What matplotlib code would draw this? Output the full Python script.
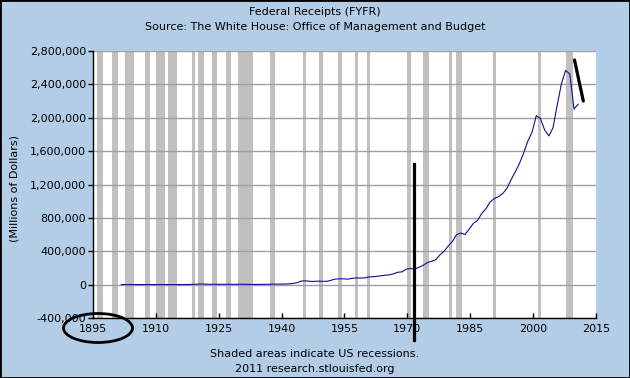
import matplotlib
matplotlib.use("Agg")
import matplotlib.pyplot as plt
from matplotlib.patches import Ellipse, Rectangle
from matplotlib.lines import Line2D
from matplotlib.ticker import FuncFormatter
import numpy as np

# Fiscal years and federal receipts (millions of dollars)
years = list(range(1901, 2011))
receipts = [
    588, 562, 562, 541, 544, 595, 666, 602, 604, 676,
    702, 693, 714, 725, 683, 761, 1101, 3645, 5130, 6649,
    5571, 4026, 3853, 3871, 3641, 3795, 4013, 3900, 3862, 4058,
    3116, 1924, 1997, 2955, 3609, 3923, 5387, 6751, 6295, 6548,
    8712, 14634, 24001, 43747, 45159, 39296, 38514, 41560, 39415, 39443,
    51616, 66167, 69608, 69701, 65451, 74587, 79990, 79636, 79249, 92492,
    94388, 99676, 106560, 112613, 116817, 130835, 148822, 152973, 186882, 192807,
    187139, 207309, 230799, 263224, 279090, 298060, 355559, 399561, 463302, 517112,
    599272, 617766, 600562, 666438, 734037, 769155, 854288, 909238, 991105, 1031958,
    1054988, 1091208, 1154335, 1258566, 1351790, 1453053, 1579232, 1721728, 1827452, 2025191,
    1991082, 1853136, 1782314, 1880114, 2153611, 2406869, 2567985, 2523991, 2104989, 2162706,
]

# US recessions (decimal years)
rec_start = [1895.92, 1899.42, 1902.67, 1907.33, 1910.0, 1913.0, 1918.58, 1920.0,
             1923.33, 1926.75, 1929.58, 1937.33, 1945.08, 1948.83, 1953.5, 1957.58,
             1960.25, 1969.92, 1973.83, 1980.0, 1981.5, 1990.5, 2001.17, 2007.92]
rec_end = [1897.5, 1901.0, 1904.67, 1908.5, 1912.08, 1915.0, 1919.25, 1921.58,
           1924.58, 1927.92, 1933.25, 1938.5, 1945.83, 1949.83, 1954.42, 1958.33,
           1961.17, 1970.92, 1975.25, 1980.58, 1982.92, 1991.25, 2001.92, 2009.5]

x_ticks = [1895, 1910, 1925, 1940, 1955, 1970, 1985, 2000, 2015]
y_ticks = [-400000, 0, 400000, 800000, 1200000, 1600000, 2000000, 2400000, 2800000]

W, H = 630, 378
BG = "#B4CDE6"
FS = 8
plt.rcParams['font.family'] = ['DejaVu Sans']
fig = plt.figure(figsize=(W / 100, H / 100), dpi=100, facecolor=BG)

ax = fig.add_axes([93 / W, 1 - 318 / H, (596 - 93) / W, (318 - 51) / H])
ax.set_facecolor("white")

for s, e in zip(rec_start, rec_end):
    ax.axvspan(s, e, color="#C0C0C0", lw=0, zorder=1)

ax.set_xlim(1895, 2015)
ax.set_ylim(-400000, 2800000)
ax.set_yticks(y_ticks)
ax.set_xticks(x_ticks)
ax.yaxis.set_major_formatter(FuncFormatter(lambda v, p: f"{int(v):,}"))
ax.grid(axis="y", color="#A0A0A0", lw=1.0, zorder=2)
ax.set_axisbelow(False)

ax.plot(np.array(years) + 0.75, receipts, color="#10108A", lw=0.8, zorder=3)

for sp in ["top", "right"]:
    ax.spines[sp].set_visible(False)
for sp in ["left", "bottom"]:
    ax.spines[sp].set_color("black")
    ax.spines[sp].set_linewidth(1.0)
    ax.spines[sp].set_zorder(4)

ax.tick_params(axis="y", direction="out", length=3.5, width=1, pad=1.5, labelsize=FS, colors="black")
ax.tick_params(axis="x", direction="in", length=3.5, width=1, pad=4.5, labelsize=FS, colors="black")

ax.set_ylabel("(Millions of Dollars)", fontsize=FS)
ax.yaxis.set_label_coords(20 / W, 0.5, transform=fig.transFigure)

fig.text(0.5, 1 - 12 / H, "Federal Receipts (FYFR)", ha="center", va="center", fontsize=FS)
fig.text(0.5, 1 - 27 / H, "Source: The White House: Office of Management and Budget",
         ha="center", va="center", fontsize=FS)
fig.text(0.5, 1 - 354 / H, "Shaded areas indicate US recessions.", ha="center", va="center", fontsize=FS)
fig.text(0.5, 1 - 369 / H, "2011 research.stlouisfed.org", ha="center", va="center", fontsize=FS)

# hand-drawn annotations
def fx(x):
    return x / W

def fy(y):
    return 1 - y / H

fig.add_artist(Ellipse((fx(98), fy(328)), 69 / W, 29 / H, transform=fig.transFigure,
                       fill=False, edgecolor="black", lw=2.0, zorder=10))
fig.add_artist(Line2D([fx(414.3), fx(414.3)], [fy(164), fy(340)], transform=fig.transFigure,
                      color="black", lw=2.3, zorder=10))
fig.add_artist(Line2D([fx(574.5), fx(583.3)], [fy(60), fy(101)], transform=fig.transFigure,
                      color="black", lw=2.3, zorder=10, solid_capstyle="round"))

# figure border
fig.add_artist(Rectangle((0, 0), 1, 1, transform=fig.transFigure, fill=False,
                         edgecolor="black", lw=2.0, zorder=20))

fig.savefig("out.png", dpi=100, facecolor=BG)
